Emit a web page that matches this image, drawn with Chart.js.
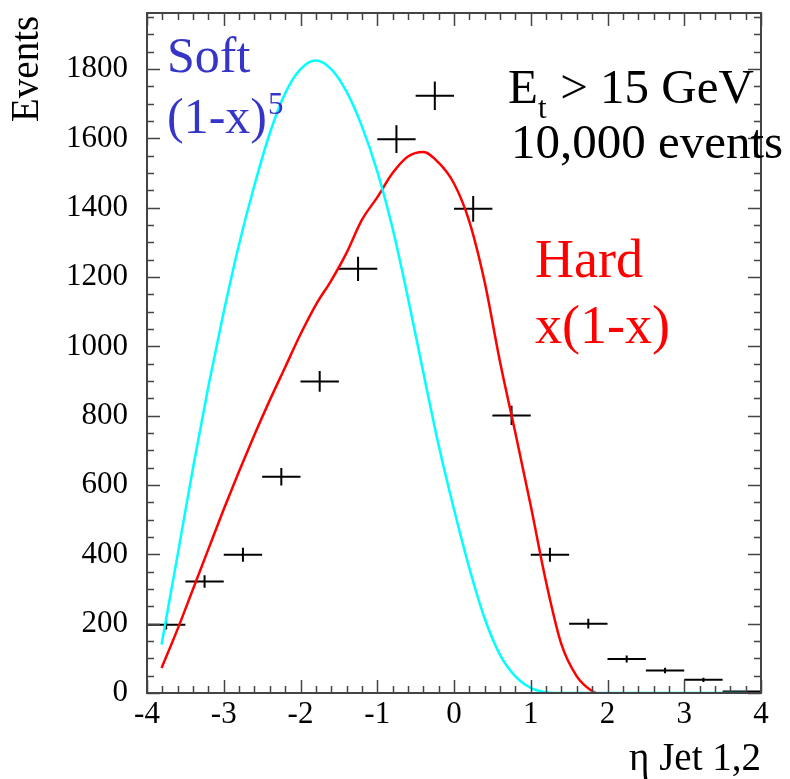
<!DOCTYPE html>
<html>
<head>
<meta charset="utf-8">
<script src="https://cdn.jsdelivr.net/npm/chart.js@4/dist/chart.umd.min.js"></script>
<style>
  body { margin: 0; background: #fff; }
  canvas { display: block; }
</style>
</head>
<body>
<canvas id="etaChart" width="790" height="779"></canvas>
<script>
// histogram bins (eta Jet 1,2), width 0.5
const binCenters = [-3.75, -3.25, -2.75, -2.25, -1.75, -1.25, -0.75, -0.25,
  0.25, 0.75, 1.25, 1.75, 2.25, 2.75, 3.25, 3.75];
const binCounts = [197, 322, 399, 624, 899, 1224, 1598, 1723,
  1397, 801, 399, 200, 98, 65, 38, 4];
const binErrors = [14, 18, 20, 25, 30, 35, 40, 41, 37, 28, 20, 14, 10, 8, 6, 2];
const binHalfWidth = 0.25;

// Soft (1-x)^5 curve
const softX = [-3.81, -3.6, -3.4, -3.2, -3.0, -2.8, -2.6, -2.4, -2.2, -2.0,
  -1.8, -1.6, -1.4, -1.2, -1.0, -0.8, -0.6, -0.4, -0.2, 0.0,
  0.2, 0.4, 0.6, 0.8, 1.0, 1.2, 1.3, 2.0, 3.0, 3.82];
const softY = [140, 400, 650, 885, 1100, 1295, 1465, 1615, 1730, 1800,
  1825, 1800, 1735, 1635, 1505, 1340, 1140, 925, 715, 530,
  360, 215, 110, 48, 15, 2, 0, 0, 0, 0];

// Hard x(1-x) curve
const hardX = [-3.81, -3.6, -3.4, -3.2, -3.0, -2.8, -2.6, -2.4, -2.2, -2.0,
  -1.8, -1.6, -1.4, -1.2, -1.0, -0.8, -0.6, -0.4, -0.2, 0.0,
  0.2, 0.4, 0.6, 0.8, 1.0, 1.2, 1.4, 1.6, 1.8, 1.85];
const hardY = [72, 185, 300, 415, 530, 640, 745, 845, 940, 1035,
  1120, 1190, 1270, 1365, 1430, 1500, 1548, 1561, 1530, 1470,
  1360, 1185, 955, 750, 540, 320, 140, 48, 5, 0];

const yTicks = [0, 200, 400, 600, 800, 1000, 1200, 1400, 1600, 1800];

const SERIF = "'Liberation Serif', 'Times New Roman', serif";

const pairs = (xs, ys) => xs.map((x, i) => ({ x, y: ys[i] }));

const hBars = [];
const vBars = [];
binCenters.forEach((c, i) => {
  hBars.push({ x: c - binHalfWidth, y: binCounts[i] }, { x: c + binHalfWidth, y: binCounts[i] }, { x: c, y: null });
  vBars.push({ x: c, y: binCounts[i] - binErrors[i] }, { x: c, y: binCounts[i] + binErrors[i] }, { x: c, y: null });
});

// frame with inward ticks on all four sides
const frame = {
  id: "frame",
  afterDatasetsDraw(chart) {
    const { ctx, chartArea: a, scales: { x, y } } = chart;
    ctx.save();
    ctx.strokeStyle = "#444";
    ctx.lineWidth = 1.5;
    ctx.beginPath();
    for (let k = -20; k <= 20; k++) {
      const px = Math.round(x.getPixelForValue(k / 5)) + 0.5;
      const len = k % 5 === 0 ? 13 : 7;
      ctx.moveTo(px, a.bottom); ctx.lineTo(px, a.bottom - len);
      ctx.moveTo(px, a.top); ctx.lineTo(px, a.top + len);
    }
    for (let v = 0; v <= y.max; v += 50) {
      const py = Math.round(y.getPixelForValue(v)) + 0.5;
      const len = v % 200 === 0 ? 13 : 7;
      ctx.moveTo(a.left, py); ctx.lineTo(a.left + len, py);
      ctx.moveTo(a.right, py); ctx.lineTo(a.right - len, py);
    }
    ctx.stroke();
    ctx.lineWidth = 2;
    ctx.strokeRect(a.left, a.top, a.right - a.left, a.bottom - a.top);
    ctx.restore();
  }
};

const labels = {
  id: "labels",
  afterDraw(chart) {
    const { ctx } = chart;
    ctx.save();
    ctx.textBaseline = "alphabetic";
    ctx.textAlign = "left";

    ctx.fillStyle = "#3535c8";
    ctx.font = `50px ${SERIF}`;
    ctx.fillText("Soft", 167, 72);
    ctx.fillText("(1-x)", 167, 133);
    const w = ctx.measureText("(1-x)").width;
    ctx.font = `31px ${SERIF}`;
    ctx.fillText("5", 167 + w + 1, 114);

    ctx.fillStyle = "#000";
    ctx.font = `49px ${SERIF}`;
    ctx.fillText("E", 508, 103);
    const we = ctx.measureText("E").width;
    ctx.font = `31px ${SERIF}`;
    ctx.fillText("t", 508 + we, 118);
    ctx.font = `49px ${SERIF}`;
    ctx.fillText(" > 15 GeV", 508 + we + 10, 103);
    ctx.fillText("10,000 events", 511, 158);

    ctx.fillStyle = "#ff0000";
    ctx.font = `54px ${SERIF}`;
    ctx.fillText("Hard", 535, 277);
    ctx.fillText("x(1-x)", 535, 343);

    ctx.fillStyle = "#000";
    ctx.font = `39px ${SERIF}`;
    ctx.textAlign = "right";
    ctx.fillText("\u03b7 Jet 1,2", 761, 770);

    ctx.font = `39px ${SERIF}`;
    ctx.textAlign = "left";
    ctx.translate(38, 122);
    ctx.rotate(-Math.PI / 2);
    ctx.fillText("Events", 0, 0);
    ctx.restore();
  }
};

new Chart(document.getElementById("etaChart"), {
  type: "line",
  data: {
    datasets: [
      {
        label: "Soft",
        data: pairs(softX, softY),
        borderColor: "#00ffff",
        borderWidth: 2.5,
        pointRadius: 0,
        cubicInterpolationMode: "monotone"
      },
      {
        label: "Hard",
        data: pairs(hardX, hardY),
        borderColor: "#ff0000",
        borderWidth: 2.5,
        pointRadius: 0,
        cubicInterpolationMode: "monotone"
      },
      {
        label: "data",
        data: hBars,
        borderColor: "#000",
        borderWidth: 2,
        pointRadius: 0,
        spanGaps: false
      },
      {
        label: "errors",
        data: vBars,
        borderColor: "#000",
        borderWidth: 2,
        pointRadius: 0,
        spanGaps: false
      }
    ]
  },
  options: {
    responsive: false,
    animation: false,
    layout: { padding: { top: 13, right: 29, left: 0, bottom: 0 } },
    plugins: { legend: { display: false }, tooltip: { enabled: false } },
    scales: {
      x: {
        type: "linear",
        min: -4,
        max: 4,
        grid: { display: false, drawTicks: false },
        border: { display: false },
        ticks: {
          stepSize: 1,
          padding: 3,
          color: "#000",
          font: { family: SERIF, size: 31 }
        },
        afterFit: (s) => {
          s.height = 86;
          s.paddingLeft = 0;
          s.paddingRight = 0;
        }
      },
      y: {
        min: 0,
        max: 1962,
        grid: { display: false, drawTicks: false },
        border: { display: false },
        ticks: {
          padding: 19,
          color: "#000",
          font: { family: SERIF, size: 31 },
          callback: (v) => String(v)
        },
        afterBuildTicks: (s) => { s.ticks = yTicks.map((v) => ({ value: v })); },
        afterFit: (s) => {
          s.width = 147;
          s.paddingTop = 0;
          s.paddingBottom = 0;
        }
      }
    }
  },
  plugins: [frame, labels]
});
</script>
</body>
</html>
